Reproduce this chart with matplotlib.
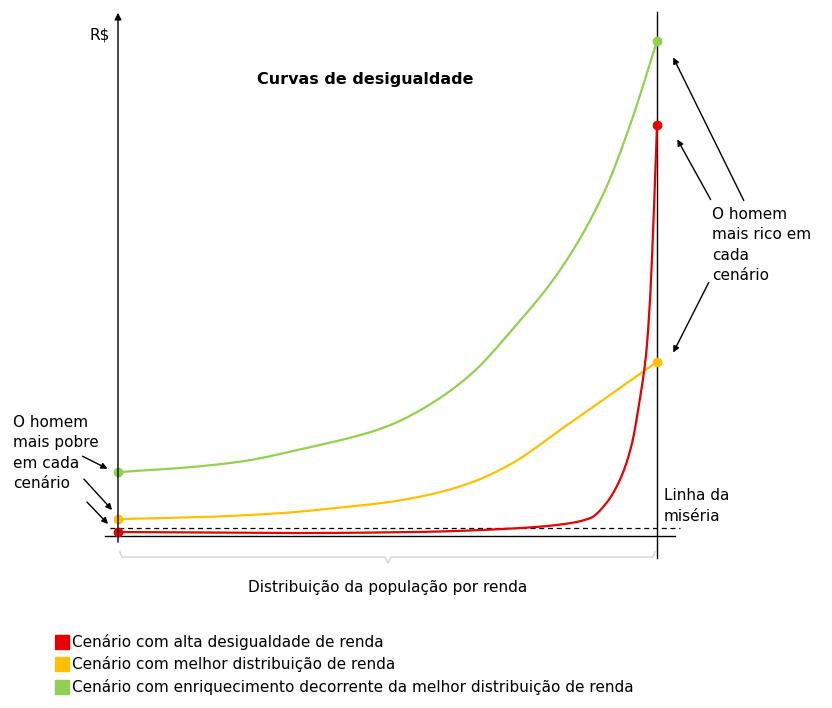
import matplotlib
matplotlib.use("Agg")
import matplotlib.pyplot as plt
import numpy as np
from matplotlib.patches import Rectangle

# data: x = population percentile (0-100), y = income (arbitrary units)
green_x = [0, 10, 22.6, 35, 45, 50.5, 57, 65.3, 73, 82, 90, 95, 100]
green_y = [12.9, 13.6, 15.0, 17.8, 20.4, 22.4, 26.0, 32.5, 41.5, 53.7, 69, 83, 100]
yellow_x = [0, 15, 30, 40, 50.5, 58, 65.3, 73, 82, 90, 100]
yellow_y = [3.4, 3.8, 4.6, 5.6, 6.9, 8.4, 10.7, 14.6, 21.4, 27.5, 35.2]
red_x = [0, 15, 33.8, 55, 74.6, 82, 87.6, 90.5, 93.1, 95.2, 96.8, 98, 98.7, 99.4, 100]
red_y = [0.8, 0.7, 0.6, 0.8, 1.6, 2.3, 3.6, 6.5, 11.3, 18, 27.5, 37, 47.7, 65, 83]
misery_y = 1.6
colors = {"red": "#e60000", "yellow": "#ffc000", "green": "#92d050"}
legend_labels = ["Cenário com alta desigualdade de renda",
                 "Cenário com melhor distribuição de renda",
                 "Cenário com enriquecimento decorrente da melhor distribuição de renda"]


def pchip(x, y, n=400):
    """Monotone cubic rendering of the read points (for a smooth line only)."""
    x = np.asarray(x, float); y = np.asarray(y, float)
    h = np.diff(x); d = np.diff(y) / h
    m = np.zeros_like(y)
    for k in range(1, len(x) - 1):
        if d[k - 1] * d[k] > 0:
            w1 = 2 * h[k] + h[k - 1]; w2 = h[k] + 2 * h[k - 1]
            m[k] = (w1 + w2) / (w1 / d[k - 1] + w2 / d[k])
    m[0] = d[0]; m[-1] = d[-1]
    xs = np.linspace(x[0], x[-1], n)
    idx = np.clip(np.searchsorted(x, xs) - 1, 0, len(h) - 1)
    t = (xs - x[idx]) / h[idx]
    h00 = 2 * t**3 - 3 * t**2 + 1; h10 = t**3 - 2 * t**2 + t
    h01 = -2 * t**3 + 3 * t**2; h11 = t**3 - t**2
    ys = h00 * y[idx] + h10 * h[idx] * m[idx] + h01 * y[idx + 1] + h11 * h[idx] * m[idx + 1]
    return xs, ys


fig = plt.figure(figsize=(8.32, 7.08), dpi=100)
ax = fig.add_axes([0, 0, 1, 1])
ax.set_xlim(-21.89, 132.47)
ax.set_ylim(-34.75, 108.28)
ax.axis("off")

px = lambda p: (p - 118) / 5.39
py = lambda p: (536 - p) / 4.95

ax.plot([px(105), px(675)], [0, 0], color="black", lw=1)
ax.annotate("", xy=(0, py(10)), xytext=(0, py(545)),
            arrowprops=dict(arrowstyle="-|>", color="black", lw=1, mutation_scale=10))
ax.plot([100, 100], [py(12), py(558)], color="black", lw=1)
ax.plot([px(110), px(680)], [misery_y, misery_y], color="black", lw=0.9, ls=(0, (4, 3)))

for xs, ys, c in [(green_x, green_y, colors["green"]), (yellow_x, yellow_y, colors["yellow"]),
                  (red_x, red_y, colors["red"])]:
    sx, sy = pchip(xs, ys, 2000)
    ax.plot(sx, sy, color=c, lw=1.6)
    ax.plot([xs[0], xs[-1]], [ys[0], ys[-1]], "o", color=c, ms=6)

bc = "#d9d9d9"
ax.plot([px(120), px(122), px(385), px(388), px(391), px(653), px(655)],
        [py(552), py(557), py(557), py(563), py(557), py(557), py(552)], color=bc, lw=1.2)

fs = 11
ax.text(px(388), py(588), "Distribuição da população por renda", ha="center", va="center", fontsize=fs)
ax.text(px(365), py(80), "Curvas de desigualdade", ha="center", va="center", fontsize=11.5, fontweight="bold")
ax.text(px(90), py(35), "R$", ha="left", va="center", fontsize=fs)
ax.text(px(13), py(453), "O homem\nmais pobre\nem cada\ncenário", ha="left", va="center", fontsize=fs, linespacing=1.45)
ax.text(px(712), py(245), "O homem\nmais rico em\ncada\ncenário", ha="left", va="center", fontsize=fs, linespacing=1.45)
ax.text(px(664), py(506), "Linha da\nmiséria", ha="left", va="center", fontsize=fs, linespacing=1.45)

ap = dict(arrowstyle="-|>", color="black", lw=1, mutation_scale=9)
for (x0, y0, x1, y1) in [(80, 455, 110, 470), (82, 477, 114, 512), (85, 500, 110, 526),
                         (745, 203, 672, 55), (712, 202, 676, 137), (710, 280, 672, 355)]:
    ax.annotate("", xy=(px(x1), py(y1)), xytext=(px(x0), py(y0)), arrowprops=ap)

for i, (lab, c) in enumerate(zip(legend_labels, [colors["red"], colors["yellow"], colors["green"]])):
    yc = 642 + i * 22.5
    ax.add_patch(Rectangle((px(55), py(yc + 7)), 14 / 5.39, 14 / 4.95, color=c))
    ax.text(px(72), py(yc), lab, ha="left", va="center", fontsize=fs)

fig.savefig("out.png", dpi=100)
